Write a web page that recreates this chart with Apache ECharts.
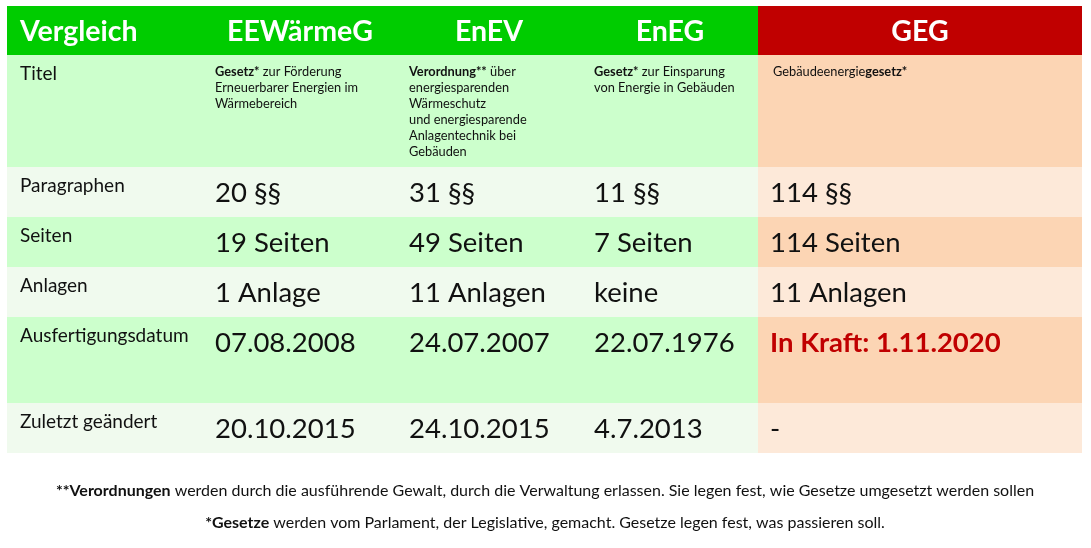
<!DOCTYPE html>
<html><head><meta charset="utf-8">
<script src="https://cdn.jsdelivr.net/npm/echarts@6/dist/echarts.min.js"></script>
<style>html,body{margin:0;background:#fff}#c{width:1091px;height:548px}</style>
</head><body><div id="c"></div>
<script>
const headers = ['Vergleich','EEWärmeG','EnEV','EnEG','GEG'];
const rowLabels = ['Titel','Paragraphen','Seiten','Anlagen','Ausfertigungsdatum','Zuletzt geändert'];
const titles = [
  '{b|Gesetz*} zur Förderung\nErneuerbarer Energien im\nWärmebereich',
  '{b|Verordnung**} über\nenergiesparenden\nWärmeschutz\nund energiesparende\nAnlagentechnik bei\nGebäuden',
  '{b|Gesetz*} zur Einsparung\nvon Energie in Gebäuden',
  'Gebäudeenergie{b|gesetz*}'
];
const paragraphen = ['20 §§','31 §§','11 §§','114 §§'];
const seiten = ['19 Seiten','49 Seiten','7 Seiten','114 Seiten'];
const anlagen = ['1 Anlage','11 Anlagen','keine','11 Anlagen'];
const datum = ['07.08.2008','24.07.2007','22.07.1976','In Kraft: 1.11.2020'];
const geaendert = ['20.10.2015','24.10.2015','4.7.2013','-'];
const footnotes = ['{b|**Verordnungen} werden durch die ausführende Gewalt, durch die Verwaltung erlassen. Sie legen fest, wie Gesetze umgesetzt werden sollen',
  '{b|*Gesetze} werden vom Parlament, der Legislative, gemacht. Gesetze legen fest, was passieren soll.'];

const F = 'Lato, "Open Sans", sans-serif';
const colX = [7,205,400,585,758,1082];
const textX = [20,215,409,594,770];
const rowY = [6,55,167,217,267,317,403,453];
const rows = [titles,paragraphen,seiten,anlagen,datum,geaendert];
const g = [];
for (let c=0;c<5;c++){
  g.push({type:'rect',shape:{x:colX[c],y:rowY[0],width:colX[c+1]-colX[c]+(c<4?1:0),height:rowY[1]-rowY[0]},style:{fill:c===4?'#c00000':'#00cc00'}});
}
g.push({type:'text',x:20,y:32,style:{text:headers[0],font:'bold 28.5px '+F,fill:'#fff',verticalAlign:'middle'}});
const hc=[300,489,670,920];
for (let c=1;c<5;c++) g.push({type:'text',x:hc[c-1],y:32,style:{text:headers[c],font:'bold 28.5px '+F,fill:'#fff',align:'center',verticalAlign:'middle'}});
for (let r=0;r<6;r++){
  const even = r%2===0;
  g.push({type:'rect',shape:{x:colX[0],y:rowY[r+1],width:colX[4]-colX[0],height:rowY[r+2]-rowY[r+1]},style:{fill:even?'#ccffcc':'#f0faee'}});
  g.push({type:'rect',shape:{x:colX[4],y:rowY[r+1],width:colX[5]-colX[4],height:rowY[r+2]-rowY[r+1]},style:{fill:even?'#fcd5b4':'#fde9d9'}});
  g.push({type:'text',x:textX[0],y:rowY[r+1]+9,style:{text:rowLabels[r],font:'19px '+F,fill:'#111'}});
  for (let c=0;c<4;c++){
    if (r===0){
      g.push({type:'text',x:textX[c+1]+(c===3?3:0),y:rowY[1]+9,style:{text:rows[r][c],font:'12.8px '+F,lineHeight:16,fill:'#111',rich:{b:{font:'bold 12.8px '+F,lineHeight:16,fill:'#111'}}}});
    } else {
      const red = r===4&&c===3;
      g.push({type:'text',x:textX[c+1],y:rowY[r+1]+26,style:{text:rows[r][c],font:(red?'bold ':'')+'27.5px '+F,fill:red?'#c00000':'#111',verticalAlign:'middle'}});
    }
  }
}
footnotes.forEach((t,i)=>g.push({type:'text',x:545,y:491+i*32,style:{text:t,font:'16px '+F,fill:'#111',align:'center',verticalAlign:'middle',rich:{b:{font:'bold 16px '+F,fill:'#111'}}}}));
const chart = echarts.init(document.getElementById('c'));
chart.setOption({graphic:{elements:g}});
</script></body></html>
